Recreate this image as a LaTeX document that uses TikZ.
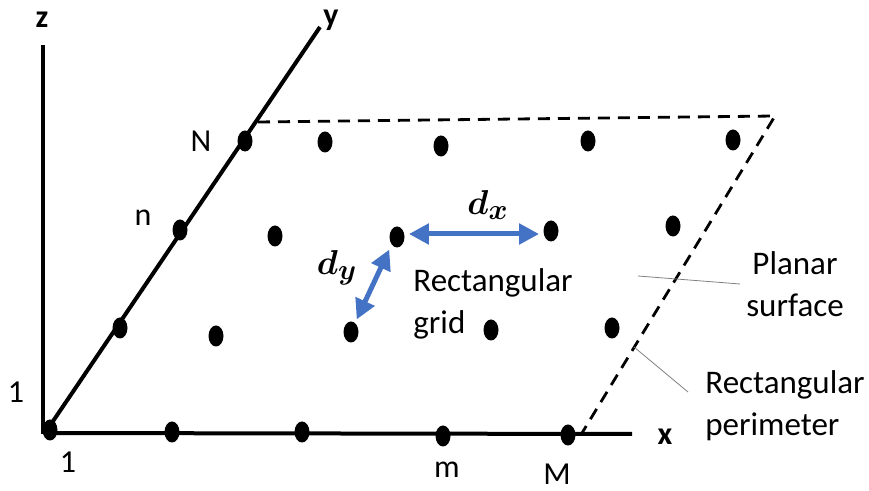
\documentclass[tikz,border=0pt]{standalone}
\usepackage{amsmath}
\usepackage{fontspec}
\setmainfont{Carlito}
\usetikzlibrary{arrows.meta,shapes.geometric}
\definecolor{oblue}{RGB}{68,114,196}
\begin{document}
\begin{tikzpicture}[x=0.5pt,y=-0.5pt,
  dot/.style={ellipse,fill=black,minimum width=7.5pt,minimum height=10.5pt,inner sep=0pt},
  lbl/.style={font=\fontsize{16}{20}\selectfont,inner sep=0pt},
  axlbl/.style={font=\fontsize{16}{20}\selectfont\bfseries,inner sep=0pt},
  txt/.style={font=\fontsize{16.5}{21}\selectfont,inner sep=0pt},
  sym/.style={font=\fontsize{19}{22}\selectfont,inner sep=0pt},
  axis/.style={line width=2pt},
  perim/.style={line width=1.4pt,dash pattern=on 6pt off 4pt},
  leader/.style={line width=0.4pt,gray},
  spacing/.style={line width=2.5pt,oblue,{Triangle[length=10pt,width=10pt]}-{Triangle[length=10pt,width=10pt]},shorten <=2pt,shorten >=2pt}
]
\useasboundingbox (0,0) rectangle (869,491);

% axes
\coordinate (O) at (45,433);
\coordinate (zend) at (43,45);
\coordinate (yend) at (320,27);
\coordinate (xend) at (632,434);
\draw[axis] (43,434) -- (zend);
\draw[axis] (O) -- (yend);
\draw[axis] (O) -- (xend);
\node[axlbl] (zl) at (42,20) {z};
\node[axlbl] (yl) at (331,20) {y};
\node[axlbl] (xl) at (665,437) {x};

% perimeter
\coordinate (p1) at (258,122);
\coordinate (p2) at (775,116);
\coordinate (p3) at (582,433);
\draw[perim] (p1) -- (p2) -- (p3);

% dots
\node[dot] (a1) at (50,430) {};
\node[dot] (a2) at (172,432) {};
\node[dot] (a3) at (302,432) {};
\node[dot] (a4) at (443,436) {};
\node[dot] (a5) at (568,435) {};

\node[dot] (b1) at (120,328) {};
\node[dot] (b2) at (216,336) {};
\node[dot] (b3) at (351,332) {};
\node[dot] (b4) at (491,330) {};
\node[dot] (b5) at (612,328) {};

\node[dot] (c1) at (180,230) {};
\node[dot] (c2) at (275,236) {};
\node[dot] (c3) at (397,237) {};
\node[dot] (c4) at (551,231) {};
\node[dot] (c5) at (673,226) {};

\node[dot] (d1) at (245,141) {};
\node[dot] (d2) at (325,142) {};
\node[dot] (d3) at (441,146) {};
\node[dot] (d4) at (588,141) {};
\node[dot] (d5) at (733,140) {};

% spacing arrows
\draw[spacing] ([yshift=1.5pt]c3.east) -- ([yshift=-1.5pt]c4.west);
\draw[spacing] ([xshift=-3pt,yshift=1pt]c3.south) -- ([xshift=2pt,yshift=-1pt]b3.north);
\node[sym] (dx) at (488,205) {$\boldsymbol{d_x}$};
\node[sym] (dy) at (337,268) {$\boldsymbol{d_y}$};

% index labels
\node[lbl] (Nl) at (201,141) {N};
\node[lbl] (nl) at (143,218) {n};
\node[lbl] (one1) at (16,392) {1};
\node[lbl] (one2) at (68,462) {1};
\node[lbl] (ml) at (447,470) {m};
\node[lbl] (Ml) at (557,474) {M};

% texts
\node[txt,anchor=west,align=left] (grid) at (413,304) {Rectangular\\grid};
\node[txt,align=center] (planar) at (795,284) {Planar\\surface};
\node[txt,anchor=west,align=left] (perimlbl) at (705,406) {Rectangular\\perimeter};

% leaders
\coordinate (l1a) at (638,276);
\coordinate (l1b) at (740,284);
\coordinate (l2a) at (634,347);
\coordinate (l2b) at (688,392);
\draw[leader] (l1a) -- (l1b);
\draw[leader] (l2a) -- (l2b);
\end{tikzpicture}
\end{document}
